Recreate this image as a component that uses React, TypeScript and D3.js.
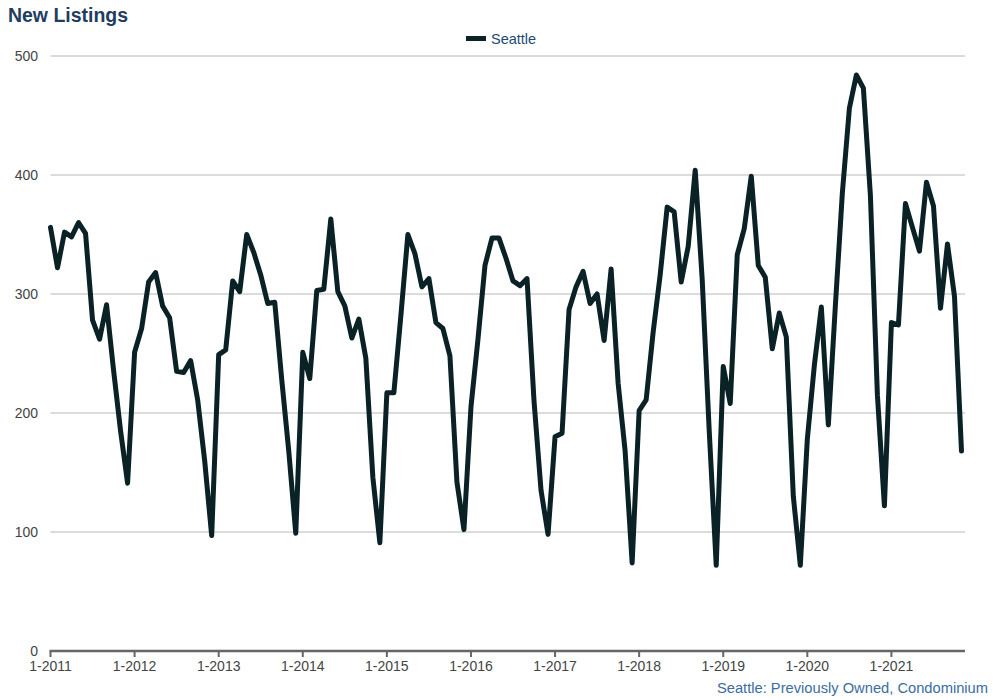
import React from "react";
import * as d3 from "d3";

const startYear = 2011;
const seriesName = "Seattle";
const footerText = "Seattle: Previously Owned, Condominium";
const titleText = "New Listings";

// Monthly values Jan 2011 .. Nov 2021
const values2011 = [356, 322, 352, 348, 360, 351, 278, 262, 291, 236, 185, 141];
const values2012 = [251, 271, 310, 318, 290, 280, 235, 234, 244, 211, 160, 97];
const values2013 = [249, 253, 311, 302, 350, 335, 316, 292, 293, 228, 168, 99];
const values2014 = [251, 229, 303, 304, 363, 302, 290, 263, 279, 246, 146, 91];
const values2015 = [217, 217, 282, 350, 334, 306, 313, 276, 271, 248, 142, 102];
const values2016 = [205, 262, 324, 347, 347, 330, 311, 307, 313, 210, 135, 98];
const values2017 = [180, 183, 287, 306, 319, 292, 300, 261, 321, 225, 168, 74];
const values2018 = [202, 211, 268, 316, 373, 369, 310, 340, 404, 312, 185, 72];
const values2019 = [239, 208, 333, 355, 399, 324, 314, 254, 284, 264, 130, 72];
const values2020 = [178, 240, 289, 190, 290, 385, 456, 484, 473, 383, 215, 122];
const values2021 = [276, 274, 376, 356, 336, 394, 374, 288, 342, 298, 168];

const seriesValues = [
  ...values2011, ...values2012, ...values2013, ...values2014, ...values2015,
  ...values2016, ...values2017, ...values2018, ...values2019, ...values2020, ...values2021,
];

const yTicks = [0, 100, 200, 300, 400, 500];
const xTickYears = [2011, 2012, 2013, 2014, 2015, 2016, 2017, 2018, 2019, 2020, 2021];

const FONT = "'Liberation Sans', Arial, Helvetica, sans-serif";

export default function App() {
  const width = 993;
  const height = 700;
  const left = 50.5;
  const right = 965;
  const top = 56;
  const bottom = 651;

  const x = d3.scaleLinear().domain([0, 130.5]).range([left, right]);
  const y = d3.scaleLinear().domain([0, 500]).range([bottom, top]);

  const line = d3
    .line<number>()
    .x((_, i) => x(i))
    .y((d) => y(d));

  const lineColor = "#0a2126";

  return (
    <svg
      width={width}
      height={height}
      style={{ position: "absolute", left: 0, top: 0, background: "#fff" }}
      fontFamily={FONT}
    >
      <text x={8} y={22} fontSize={19.5} fontWeight="bold" fill="#1f3d60" textLength={120} lengthAdjust="spacingAndGlyphs">
        {titleText}
      </text>

      {/* legend */}
      <line x1={466} x2={486} y1={38.5} y2={38.5} stroke={lineColor} strokeWidth={5} />
      <text x={491} y={43.5} fontSize={14.5} fill="#1f4a75">
        {seriesName}
      </text>

      {/* gridlines */}
      {yTicks.map((t) =>
        t === 0 ? null : (
          <line key={t} x1={left} x2={right} y1={y(t)} y2={y(t)} stroke="#b8b8b8" strokeWidth={1} />
        )
      )}
      {yTicks.map((t) => (
        <text key={"yl" + t} x={38} y={y(t) + 5} fontSize={14} fill="#444" textAnchor="end">
          {t}
        </text>
      ))}

      {/* x axis */}
      <line x1={left - 1} x2={right} y1={bottom} y2={bottom} stroke="#666" strokeWidth={2.5} />
      {xTickYears.map((yr) => {
        const xi = x((yr - startYear) * 12);
        return (
          <g key={yr}>
            <line x1={xi} x2={xi} y1={bottom} y2={bottom + 6} stroke="#666" strokeWidth={2} />
            <text x={xi} y={bottom + 20} fontSize={14} fill="#444" textAnchor="middle">
              {`1-${yr}`}
            </text>
          </g>
        );
      })}

      <path
        d={line(seriesValues) || ""}
        fill="none"
        stroke={lineColor}
        strokeWidth={5}
        strokeLinejoin="round"
        strokeLinecap="round"
      />

      <text x={988} y={693} fontSize={14.7} fill="#3a6da3" textAnchor="end">
        {footerText}
      </text>
    </svg>
  );
}
